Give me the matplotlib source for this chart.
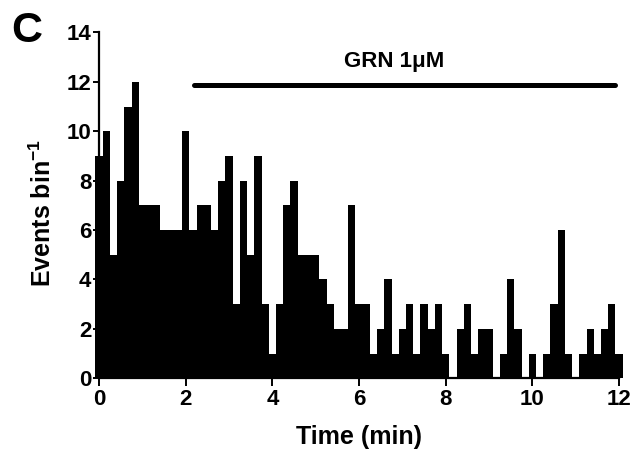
import numpy as np
import matplotlib
matplotlib.use("Agg")
import matplotlib.pyplot as plt

plt.rcParams['font.family'] = ['Liberation Sans', 'DejaVu Sans']
plt.rcParams['font.weight'] = 'bold'
plt.rcParams['mathtext.fontset'] = 'custom'
plt.rcParams['mathtext.rm'] = 'Liberation Sans:bold'
plt.rcParams['mathtext.bf'] = 'Liberation Sans:bold'
plt.rcParams['mathtext.default'] = 'bf'

# Event counts per 10-s bin (bin centers at 0, 1/6, 2/6 ... 12 min)
counts = [9, 10, 5, 8, 11, 12, 7, 7, 7, 6, 6, 6, 10, 6, 7, 7, 6, 8, 9, 3,
          8, 5, 9, 3, 1, 3, 7, 8, 5, 5, 5, 4, 3, 2, 2, 7, 3, 3, 1, 2,
          4, 1, 2, 3, 1, 3, 2, 3, 1, 0, 2, 3, 1, 2, 2, 0, 1, 4, 2, 0,
          1, 0, 1, 3, 6, 1, 0, 1, 2, 1, 2, 3, 1]
bin_width = 1 / 6  # min
x_ticks = [0, 2, 4, 6, 8, 10, 12]
y_ticks = [0, 2, 4, 6, 8, 10, 12, 14]
drug_label = "GRN 1μM"
drug_span = [2.2, 11.9]
drug_level = 11.87

counts = np.array(counts)
edges = (np.arange(len(counts) + 1) - 0.5) * bin_width

fig = plt.figure(figsize=(6.36, 4.53), dpi=100)
ax = fig.add_axes([0.150, 0.165, 0.829, 0.7634])

ax.stairs(counts, edges, fill=True, color='black', linewidth=0)

ax.set_xlim(edges[0], edges[-1])
ax.set_ylim(0, 14)

for s in ['top', 'right']:
    ax.spines[s].set_visible(False)
ax.spines['left'].set_position(('data', 0))
ax.spines['left'].set_bounds(0, 14)
ax.spines['bottom'].set_bounds(0, 12)
for s in ['left', 'bottom']:
    ax.spines[s].set_linewidth(1.6)
    ax.spines[s].set_zorder(5)

ax.set_xticks(x_ticks)
ax.set_yticks(y_ticks)
ax.tick_params(axis='both', direction='out', width=1.4, length=4.5,
               labelsize=16)
ax.tick_params(axis='x', length=5.5, pad=2.5)
ax.tick_params(axis='y', pad=1)
for lab in ax.get_xticklabels() + ax.get_yticklabels():
    lab.set_fontweight('bold')

ax.plot(drug_span, [drug_level, drug_level], color='black', lw=3.6,
        solid_capstyle='round', clip_on=False)
ax.text(6.82, 12.82, drug_label, ha='center', va='center',
        fontsize=16, fontweight='bold')

fig.text(0.067, 0.530, r"Events bin$^{-1}$", rotation=90, ha='center',
         va='center', fontsize=18, fontweight='bold')
fig.text(0.565, 0.036, "Time (min)", ha='center', va='center',
         fontsize=18, fontweight='bold')
fig.text(0.042, 0.932, "C", ha='center', va='center', fontsize=31,
         fontweight='bold')

fig.savefig("out.png", dpi=100)
